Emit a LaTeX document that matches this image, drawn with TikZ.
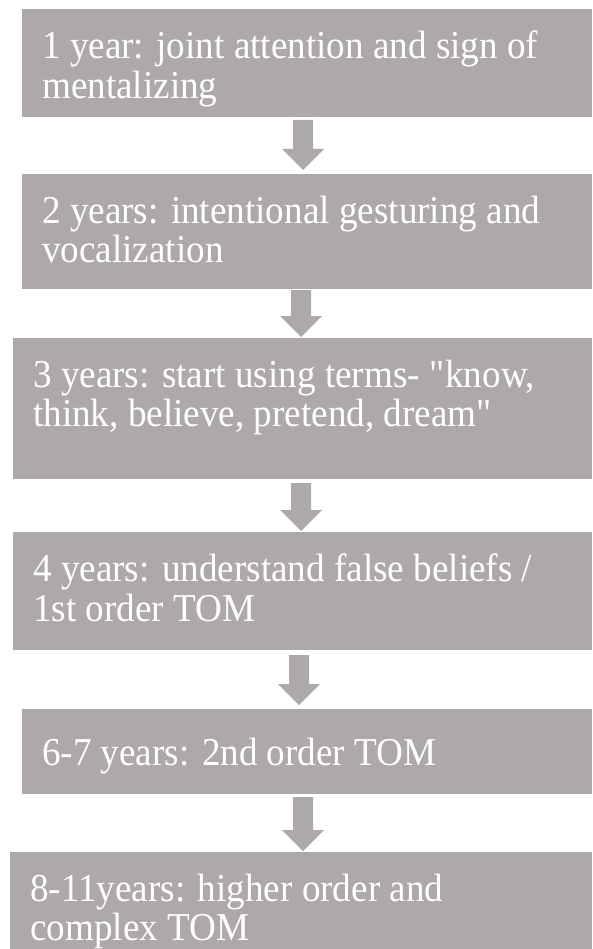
\documentclass[tikz,border=0pt]{standalone}
\usepackage{fontspec}
\setmainfont{Liberation Serif}[FakeStretch=0.94]
\usetikzlibrary{calc}
\definecolor{boxgray}{RGB}{173,169,168}
\tikzset{
  stagebox/.style={fill=boxgray, draw=none, inner sep=0pt, anchor=north west},
  stagetext/.style={text=white, font=\fontsize{39.5}{38}\selectfont, align=left, inner sep=0pt, anchor=north west},
}
\newcommand\blockarrow[2]{%
  \fill[boxgray] ($(#1)+(-10,0)$) -- ($(#1)+(10,0)$) -- ($(#2)+(10,-21)$) -- ($(#2)+(21,-21)$) -- (#2) -- ($(#2)+(-21,-21)$) -- ($(#2)+(-10,-21)$) -- cycle;}
\begin{document}
\begin{tikzpicture}[x=1pt,y=-1pt]
\useasboundingbox (0,0) rectangle (592,949);
% boxes
\node[stagebox, minimum width=570pt, minimum height=108pt] (b1) at (22,9) {};
\node[stagebox, minimum width=570pt, minimum height=115pt] (b2) at (22,174) {};
\node[stagebox, minimum width=579pt, minimum height=141pt] (b3) at (13,338) {};
\node[stagebox, minimum width=579pt, minimum height=118pt] (b4) at (13,532) {};
\node[stagebox, minimum width=570pt, minimum height=85pt] (b5) at (22,709) {};
\node[stagebox, minimum width=582pt, minimum height=97pt] (b6) at (10,852) {};
% texts (node top = first baseline - 26.6)
\node[stagetext] (t1) at (42,30.4) {\strut 1 year: joint attention and sign of\\\strut mentalizing};
\node[stagetext] (t2) at (42,195.4) {\strut 2 years: intentional gesturing and\\\strut vocalization};
\node[stagetext] (t3) at (33,359.4) {\strut 3 years: start using terms- \textquotedbl know,\\\strut think, believe, pretend, dream\textquotedbl};
\node[stagetext] (t4) at (33,553.4) {\strut 4 years: understand false beliefs /\\\strut 1st order TOM};
\node[stagetext] (t5) at (42,737.4) {\strut 6-7 years: 2nd order TOM};
\node[stagetext] (t6) at (30,873.4) {\strut 8-11years: higher order and\\\strut complex TOM};
% arrows
\coordinate (a1s) at (303,120); \coordinate (a1e) at (303,170);
\coordinate (a2s) at (301,290); \coordinate (a2e) at (301,337);
\coordinate (a3s) at (301,483); \coordinate (a3e) at (301,531);
\coordinate (a4s) at (299,655); \coordinate (a4e) at (299,705);
\coordinate (a5s) at (303,797); \coordinate (a5e) at (303,851);
\blockarrow{a1s}{a1e}
\blockarrow{a2s}{a2e}
\blockarrow{a3s}{a3e}
\blockarrow{a4s}{a4e}
\blockarrow{a5s}{a5e}
\end{tikzpicture}
\end{document}
